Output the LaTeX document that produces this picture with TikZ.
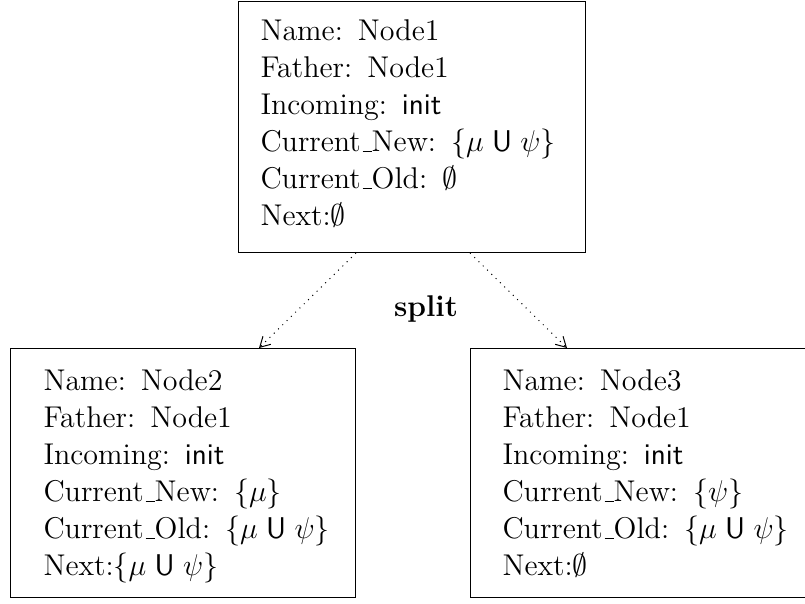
\documentclass[tikz,border=0pt]{standalone}
\usepackage{amsmath}
\usepackage{amssymb}
\usetikzlibrary{arrows.meta}

\newcommand{\until}{\mathrel{\mathsf{U}}}
\newcommand{\uscore}{\leavevmode\kern.06em\vbox{\hrule width.3em}}

\tikzset{
  nodebox/.style={draw, thin, anchor=north west, align=left, inner xsep=0pt, inner ysep=0pt,
    font=\fontsize{12}{14.8}\selectfont},
  indent/.style={execute at begin node={\leftskip=#1}},
  splitarrow/.style={dotted, -{Straight Barb[length=4pt,width=4.5pt]}}
}

\begin{document}
\begin{tikzpicture}[x=0.4pt,y=-0.4pt]
        \useasboundingbox (0,0) rectangle (805,603);
        % the node that gets split
        \node[nodebox, text width=138.8pt, text height=15.6pt, text depth=84.8pt, indent=8.8pt] (node1) at (238,1)
          {Name: Node1\\ Father: Node1\\ Incoming: \textsf{init}\\
           Current\uscore New: $\{\mu \until \psi\}$\\ Current\uscore Old: $\emptyset$\\ Next:$\emptyset$};
        % the two new nodes
        \node[nodebox, text width=138pt, text height=16.8pt, text depth=82.8pt, indent=13.2pt] (node2) at (10,348)
          {Name: Node2\\ Father: Node1\\ Incoming: \textsf{init}\\
           Current\uscore New: $\{\mu\}$\\ Current\uscore Old: $\{\mu \until \psi\}$\\ Next:$\{\mu \until \psi\}$};
        \node[nodebox, text width=136pt, text height=16.8pt, text depth=82.8pt, indent=12.8pt] (node3) at (470,348)
          {Name: Node3\\ Father: Node1\\ Incoming: \textsf{init}\\
           Current\uscore New: $\{\psi\}$\\ Current\uscore Old: $\{\mu \until \psi\}$\\ Next:$\emptyset$};
        \node[font=\fontsize{12}{14.8}\selectfont\bfseries] (splitlabel) at (426,309) {split};
        \draw[splitarrow] (node1.south -| node2.north east) -- ([xshift=-38.8pt]node2.north east);
        \draw[splitarrow] (node1.south -| node3.north west) -- ([xshift=38.8pt]node3.north west);
\end{tikzpicture}
\end{document}
